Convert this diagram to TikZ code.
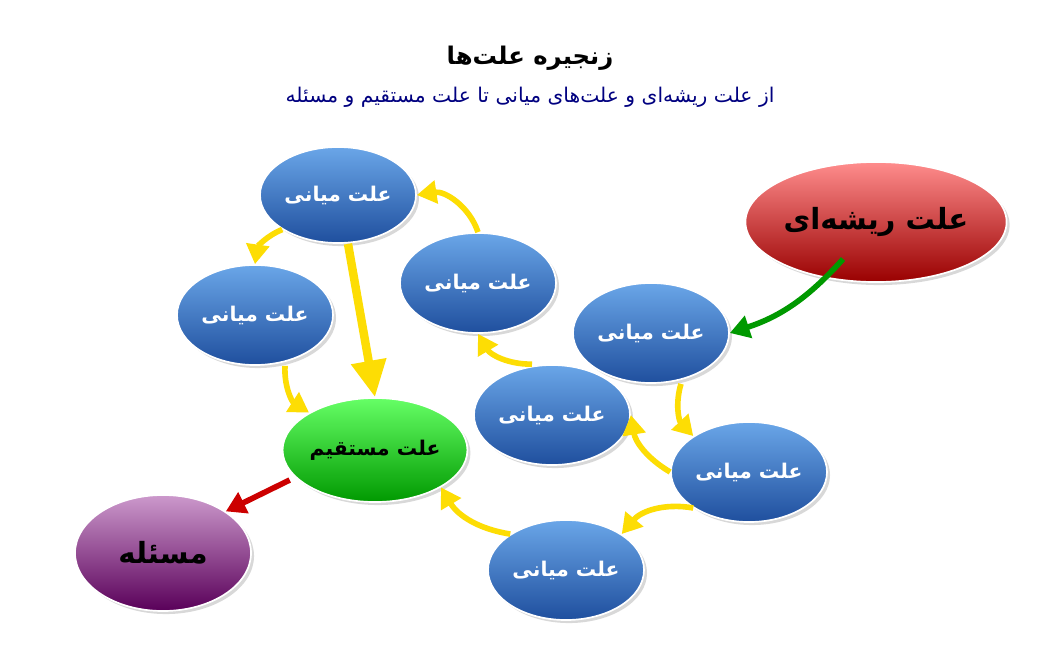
\documentclass[tikz,border=0pt]{standalone}
\usepackage{fontspec}
\newfontfamily\ar[Script=Arabic]{DejaVu Sans}
\TeXXeTstate=1
\usetikzlibrary{arrows.meta,shapes.geometric,shadows}
\definecolor{bt}{HTML}{6AA6E8}
\definecolor{bb}{HTML}{1F4F9E}
\begin{document}
\begin{tikzpicture}[x=0.025cm,y=-0.025cm,
 ell/.style={ellipse,draw=white,line width=1.2pt,inner sep=0pt,minimum width=#1*2*0.025cm,drop shadow={opacity=0.3}},
 blue/.style={ell=78,minimum height=2.5cm,top color=bt,bottom color=bb,text=white,font=\ar\bfseries\Large},
 ya/.style={line width=4pt,draw=yellow!80!orange,-{Triangle[length=14pt,width=16pt]}},
]
\useasboundingbox[fill=white] (0,0) rectangle (1061,667);
\node[font=\ar\bfseries\LARGE] (t) at (530,58) {\beginR زنجیره علت‌ها\endR};
\node[font=\ar\Large,text=blue!50!black] (s) at (530,97) {\beginR از علت ریشه‌ای و علت‌های میانی تا علت مستقیم و مسئله\endR};
\node[ell=121,minimum height=3cm,top color=red!45!white,bottom color=red!60!black,font=\ar\bfseries\huge] (r) at (876,222) {\beginR علت ریشه‌ای\endR};
\node[blue] (m1) at (651,333) {\beginR علت میانی\endR};
\node[blue] (m2) at (749,472) {\beginR علت میانی\endR};
\node[blue] (m3) at (566,570) {\beginR علت میانی\endR};
\node[blue] (m4) at (552,415) {\beginR علت میانی\endR};
\node[blue] (m5) at (478,283) {\beginR علت میانی\endR};
\node[blue,minimum height=2.4cm] (m6) at (338,195) {\beginR علت میانی\endR};
\node[blue] (m7) at (255,315) {\beginR علت میانی\endR};
\node[ell=90,minimum height=2.6cm,top color=green!60!white,bottom color=green!60!black,font=\ar\bfseries\Large] (d) at (375,450) {\beginR علت مستقیم\endR};
\node[ell=88,minimum height=2.9cm,top color=violet!40!white,bottom color=violet!70!black,font=\ar\bfseries\huge] (p) at (163,553) {\beginR مسئله\endR};
\draw[ya,draw=green!60!black] (r.south west) ++(60,-6) to[bend left=15] (m1.east);
\draw[ya] (m1.south) ++(30,0) to[bend right=30] (m2.north west);
\draw[ya] (m2.west) to[bend left=25] (m4.east);
\draw[ya] (m2.south west) to[bend right=30] (m3.north east);
\draw[ya] (m3.north west) to[bend left=25] (d.south east);
\draw[ya] (m4.north) ++(-20,0) to[bend left=30] (m5.south);
\draw[ya] (m5.north) to[bend right=40] (m6.east);
\draw[ya] (m6.south west) to[bend right=30] (m7.north);
\draw[ya] (m7.south) ++(30,0) to[bend right=30] (d.north west);
\draw[ya,line width=6pt,-{Triangle[length=26pt,width=24pt]}] (m6.south) ++(10,0) -- (d.north);
\draw[ya,draw=red!80!black] (d.west) ++(8,30) -- (p.north east);
\end{tikzpicture}
\end{document}
